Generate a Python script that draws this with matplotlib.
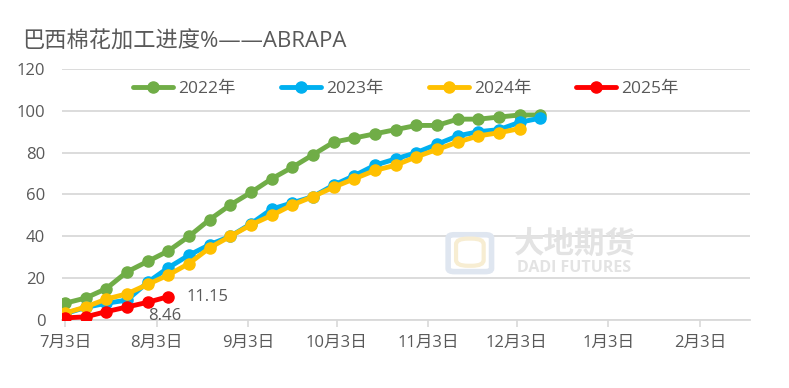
import matplotlib
matplotlib.use("Agg")
import matplotlib.pyplot as plt
from matplotlib.patches import FancyBboxPatch
import pandas as pd

plt.rcParams['font.family'] = ['Open Sans', 'Noto Sans CJK SC', 'DejaVu Sans']

# weekly reading dates (plotted on one season axis)
dates = pd.date_range('2024-07-03', periods=24, freq='7D')

y2022 = [8, 10.5, 15, 23, 28, 33, 40, 48, 55, 61, 67.5, 73, 79, 85, 87, 89, 91, 93, 93, 96, 96, 97, 98, 98]
y2023 = [3, 6, 8, 9.5, 18, 25, 31, 36, 40, 46, 53, 56, 59, 64.5, 69, 74, 77, 80, 84, 88, 90, 91, 94.5, 96.5]
y2024 = [3.3, 6.2, 10, 12.5, 17, 21.5, 27, 34.5, 40, 45.5, 50, 55, 59, 63.5, 67.5, 71.5, 74, 78, 81.5, 85, 88, 89.5, 91.5]
y2025 = [1, 1.5, 4, 6.2, 8.46, 11.15]

series = [('2022年', y2022, '#70AD47'),
          ('2023年', y2023, '#00B0F0'),
          ('2024年', y2024, '#FFC000'),
          ('2025年', y2025, '#FF0000')]

tick_dates = pd.to_datetime(['2024-07-03', '2024-08-03', '2024-09-03', '2024-10-03',
                             '2024-11-03', '2024-12-03', '2025-01-03', '2025-02-03'])
tick_labels = ['7月3日', '8月3日', '9月3日', '10月3日', '11月3日', '12月3日', '1月3日', '2月3日']

txt = '#595959'
fig = plt.figure(figsize=(7.89, 3.88), dpi=100)
ax = fig.add_axes([0.0786, 0.1753, 0.872, 0.647])

# watermark (logo + text)
fig.patches.append(FancyBboxPatch((0.568, 0.30), 0.055, 0.095, boxstyle='round,pad=0,rounding_size=0.008',
                                  transform=fig.transFigure, fc='none', ec='#dfe6f0', lw=4, zorder=0))
fig.patches.append(FancyBboxPatch((0.578, 0.315), 0.035, 0.07, boxstyle='round,pad=0,rounding_size=0.015',
                                  transform=fig.transFigure, fc='none', ec='#f7edd2', lw=3, zorder=0))
fig.text(0.728, 0.37, '大地期货', fontsize=22, color='#e3e3e3', weight='bold',
         ha='center', va='center', zorder=0)
fig.text(0.728, 0.31, 'DADI FUTURES', fontsize=11.5, color='#e3e3e3', weight='bold',
         ha='center', va='center', zorder=0)

for name, vals, c in series:
    ax.plot(dates[:len(vals)], vals, '-o', color=c, lw=3.5, ms=8, label=name,
            solid_capstyle='round', zorder=3)

# labels for latest 2025 points
ax.annotate('8.46', (dates[4], y2025[4]), xytext=(0, -10), textcoords='offset points',
            ha='left', va='center', fontsize=12, color=txt)
ax.annotate('11.15', (dates[5], y2025[5]), xytext=(13, 0), textcoords='offset points',
            ha='left', va='center', fontsize=12, color=txt)

ax.set_ylim(0, 120)
ax.set_yticks(range(0, 121, 20))
ax.set_xlim(pd.Timestamp('2024-07-02'), pd.Timestamp('2025-02-20'))
ax.set_xticks(tick_dates)
ax.set_xticklabels(tick_labels)
ax.tick_params(axis='x', colors='#d9d9d9', length=5, width=1.2, labelcolor=txt, labelsize=12, pad=6)
ax.tick_params(axis='y', length=0, labelcolor=txt, labelsize=12, pad=12)
ax.grid(axis='y', color='#d9d9d9', lw=1.3)
ax.set_axisbelow(True)
for s in ['top', 'right', 'left']:
    ax.spines[s].set_visible(False)
ax.spines['bottom'].set_color('#d9d9d9')
ax.spines['bottom'].set_linewidth(1.3)

ax.legend(loc='center', bbox_to_anchor=(0.5, 0.92), ncol=4, frameon=False,
          fontsize=12.5, labelcolor=txt, handlelength=2.3, columnspacing=2.6,
          handletextpad=0.3)

fig.text(0.028, 0.892, '巴西棉花加工进度%——ABRAPA', fontsize=16, color=txt, ha='left', va='center')

fig.savefig('out.png', dpi=100)
